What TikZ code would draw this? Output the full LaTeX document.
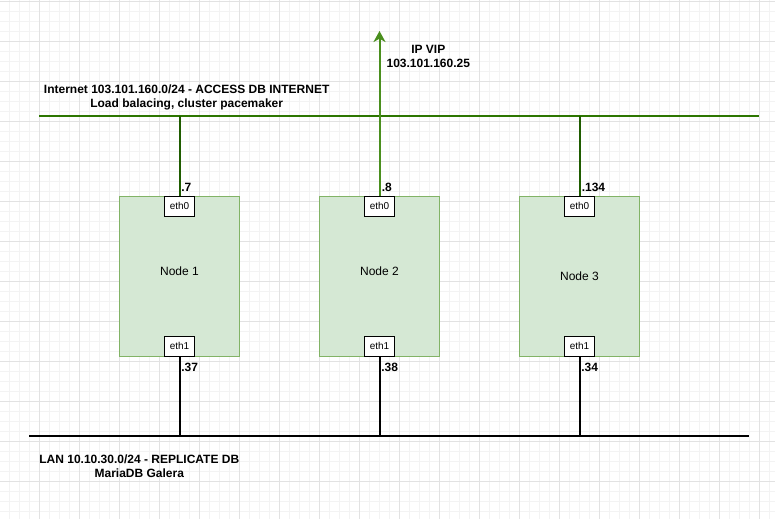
\documentclass[tikz,border=0pt]{standalone}
\usepackage{fontspec}
\setmainfont{Liberation Sans}
\usetikzlibrary{arrows.meta}
\definecolor{gridminor}{HTML}{F3F3F3}
\definecolor{gridmajor}{HTML}{E2E2E2}
\definecolor{nodefill}{HTML}{D5E8D4}
\definecolor{nodeline}{HTML}{82B366}
\definecolor{inetline}{HTML}{2D7600}
\definecolor{inetdrop}{HTML}{1F5C00}
\definecolor{vipline}{HTML}{4A8F1E}
\tikzset{
  hostbox/.style={draw=nodeline, fill=nodefill, line width=0.75pt,
    minimum width=90pt, minimum height=120pt, inner sep=0pt,
    font=\fontsize{9}{10}\selectfont},
  portbox/.style={draw=black, fill=white, line width=0.75pt,
    minimum width=22.5pt, minimum height=15pt, inner sep=0pt,
    font=\fontsize{7.5}{8}\selectfont},
  addr/.style={font=\bfseries\fontsize{9}{10}\selectfont, inner sep=0pt, anchor=base west},
  netlabel/.style={font=\bfseries\fontsize{9}{10.5}\selectfont, align=center, inner sep=0pt},
  inetwire/.style={draw=inetline, line width=1.5pt},
  inetdropwire/.style={draw=inetdrop, line width=1.5pt},
  lanwire/.style={draw=black, line width=1.5pt},
  vipwire/.style={draw=vipline, line width=1.5pt,
    -{Stealth[length=8.25pt, width=9pt, inset=2.5pt]}},
}
\begin{document}
\begin{tikzpicture}[x=0.75pt, y=-0.75pt]
\useasboundingbox (0,0) rectangle (775,519);
\fill[white] (0,0) rectangle (775,519);
% grid
\foreach \i in {0,...,78} {\draw[gridminor, line width=0.75pt] (\i*10-0.5,0) -- (\i*10-0.5,519);}
\foreach \j in {0,...,52} {\draw[gridminor, line width=0.75pt] (0,\j*10+1) -- (775,\j*10+1);}
\foreach \i in {0,...,19} {\draw[gridmajor, line width=0.75pt] (\i*40-0.5,0) -- (\i*40-0.5,519);}
\foreach \j in {0,...,12} {\draw[gridmajor, line width=0.75pt] (0,\j*40+1) -- (775,\j*40+1);}

% network coordinates
\coordinate (inetW) at (39,116);
\coordinate (inetE) at (759,116);
\coordinate (i1) at (179.5,116);
\coordinate (i3) at (579.5,116);
\coordinate (viptip) at (379.5,31);
\coordinate (lanW) at (29,435.7);
\coordinate (lanE) at (749,435.7);
\coordinate (l1) at (179.5,435.7);
\coordinate (l2) at (379.5,435.7);
\coordinate (l3) at (579.5,435.7);

% hosts
\node[hostbox, text depth=7.5pt] (box1) at (179.5,276) {Node 1};
\node[hostbox, text depth=7.5pt] (box2) at (379.5,276) {Node 2};
\node[hostbox] (box3) at (579.5,276) {Node 3};
\node[portbox] (e01) at (179.5,206) {eth0};
\node[portbox] (e02) at (379.5,206) {eth0};
\node[portbox] (e03) at (579.5,206) {eth0};
\node[portbox] (e11) at (179.5,346) {eth1};
\node[portbox] (e12) at (379.5,346) {eth1};
\node[portbox] (e13) at (579.5,346) {eth1};

% wires
\draw[inetwire] (inetW) -- (inetE);
\draw[inetdropwire] (e01.north) -- (i1);
\draw[inetdropwire] (e03.north) -- (i3);
\draw[vipwire] (e02.north) -- (viptip);
\draw[lanwire] (lanW) -- (lanE);
\draw[lanwire] (e11.south) -- (l1);
\draw[lanwire] (e12.south) -- (l2);
\draw[lanwire] (e13.south) -- (l3);

% addresses
\node[addr] (a01) at (181,191.5) {.7};
\node[addr] (a02) at (381.5,191.5) {.8};
\node[addr] (a03) at (581.5,191.5) {.134};
\node[addr] (a11) at (181,371) {.37};
\node[addr] (a12) at (381,371) {.38};
\node[addr] (a13) at (581,371) {.34};

% network labels
\node[netlabel] (inetlabel) at (186.7,97.8) {Internet 103.101.160.0/24 - ACCESS DB INTERNET\\Load balacing, cluster pacemaker};
\node[netlabel] (viplabel) at (428.3,56) {IP VIP\\103.101.160.25};
\node[netlabel] (lanlabel) at (139.3,466.3) {LAN 10.10.30.0/24 - REPLICATE DB\\MariaDB Galera};
\end{tikzpicture}
\end{document}
